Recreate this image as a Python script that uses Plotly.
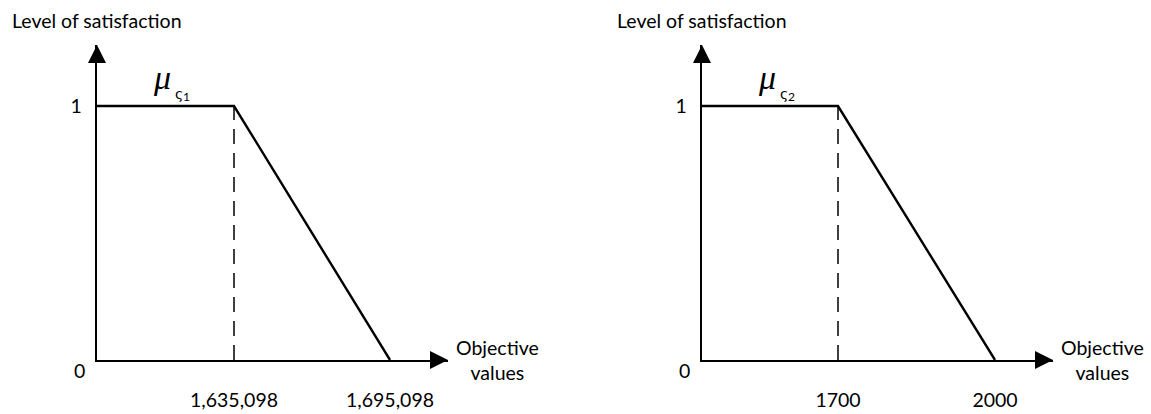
import plotly.graph_objects as go

# ---------------- data ----------------
left_breaks = [1635098, 1695098]
left_ticktext = ["1,635,098", "1,695,098"]
right_breaks = [1700, 2000]
right_ticktext = ["1700", "2000"]
membership = [1, 1, 0]          # satisfaction at plateau start, breakpoint, end
y_tickvals = [1]
y_ticktext = ["1"]
panel_subscripts = ["1", "2"]
y_title = "Level of satisfaction"
x_title = "Objective<br>values"

# ---------------- layout constants (pixels) ----------------
W, H = 1151, 414
AX_Y = 360       # pixel row of the x axis
TOP_Y = 45       # pixel row of the y-arrow tip
ONE_Y = 106      # pixel row of level 1
# origin, first break, second break, arrow tip (pixel columns)
LEFT_PX = (97, 234, 390, 448)
RIGHT_PX = (702, 838, 995, 1053)

FONT = "Lato"
FS = 19.5
BLACK = "#000000"
LW = 2.4

ytop = (AX_Y - TOP_Y) / (AX_Y - ONE_Y)
ydom = [(H - AX_Y) / H, (H - TOP_Y) / H]

fig = go.Figure()
panels = [
    ("x", "y", left_breaks, left_ticktext, LEFT_PX, panel_subscripts[0]),
    ("x2", "y2", right_breaks, right_ticktext, RIGHT_PX, panel_subscripts[1]),
]
shapes = []
annotations = []
for i, (xr, yr, brk, ttxt, px, sub) in enumerate(panels):
    o, p1, p2, tip = px
    scale = (brk[1] - brk[0]) / (p2 - p1)
    r0 = brk[0] - (p1 - o) * scale
    r1 = brk[0] + (tip - p1) * scale
    sfx = "" if i == 0 else "2"
    fig.add_trace(go.Scatter(
        x=[r0, brk[0], brk[1]], y=membership, mode="lines",
        line=dict(color=BLACK, width=LW), xaxis=xr, yaxis=yr,
        cliponaxis=False, showlegend=False, hoverinfo="skip"))
    fig.add_trace(go.Scatter(
        x=[brk[0], brk[0]], y=[0, membership[1]], mode="lines",
        line=dict(color=BLACK, width=1.5, dash="15px,9px"), xaxis=xr, yaxis=yr,
        cliponaxis=False, showlegend=False, hoverinfo="skip"))
    fig.update_layout(**{
        "xaxis" + sfx: dict(domain=[o / W, tip / W], range=[r0, r1], anchor=yr,
                            showgrid=False, zeroline=False, showline=True,
                            linecolor=BLACK, linewidth=LW, ticks="",
                            tickvals=brk, ticktext=ttxt, ticklabelstandoff=21,
                            tickfont=dict(family=FONT, size=FS, color=BLACK)),
        "yaxis" + sfx: dict(domain=ydom, range=[0, ytop], anchor=xr,
                            showgrid=False, zeroline=False, showline=True,
                            linecolor=BLACK, linewidth=LW, ticks="",
                            tickvals=y_tickvals, ticktext=y_ticktext,
                            ticklabelstandoff=9,
                            tickfont=dict(family=FONT, size=FS, color=BLACK)),
    })
    # arrow heads (paper refs so they are not clipped by the plot area)
    shapes.append(dict(type="path", xref="paper", yref="paper",
                       xsizemode="pixel", ysizemode="pixel",
                       xanchor=tip / W, yanchor=(H - AX_Y) / H,
                       path="M0,0 L-18,9 L-18,-9 Z",
                       fillcolor=BLACK, line=dict(width=0)))
    shapes.append(dict(type="path", xref="paper", yref="paper",
                       xsizemode="pixel", ysizemode="pixel",
                       xanchor=o / W, yanchor=(H - TOP_Y) / H,
                       path="M0,0 L-9,-18 L9,-18 Z",
                       fillcolor=BLACK, line=dict(width=0)))
    # texts
    annotations += [
        dict(xref=xr, yref=yr, x=r0, y=0, xshift=-18, yshift=-10, text="0",
             showarrow=False, font=dict(family=FONT, size=FS, color=BLACK)),
        dict(xref=xr, yref=yr, x=r1, y=0, xshift=49, yshift=0, text=x_title,
             showarrow=False, align="center",
             font=dict(family=FONT, size=FS, color=BLACK)),
        dict(xref=xr, yref=yr, x=r0, y=ytop, xshift=-87, yshift=25,
             xanchor="left", text=y_title, showarrow=False,
             font=dict(family=FONT, size=FS, color=BLACK)),
        dict(xref=xr, yref=yr, x=r0, y=membership[1], xshift=65, yshift=29,
             text="<i>μ</i>", showarrow=False,
             font=dict(family="Liberation Serif", size=34, color=BLACK)),
        dict(xref=xr, yref=yr, x=r0, y=membership[1], xshift=82, yshift=12,
             text="ς", showarrow=False,
             font=dict(family="DejaVu Sans", size=14, color=BLACK)),
        dict(xref=xr, yref=yr, x=r0, y=membership[1], xshift=89, yshift=10,
             text=sub, showarrow=False,
             font=dict(family=FONT, size=12, color=BLACK)),
    ]

fig.update_layout(width=W, height=H, margin=dict(l=0, r=0, t=0, b=0),
                  paper_bgcolor="white", plot_bgcolor="white",
                  shapes=shapes, annotations=annotations, showlegend=False)
fig.write_html("out.html", config={"displayModeBar": False},
               post_script="document.body.style.margin='0px';document.body.style.overflow='hidden';")
